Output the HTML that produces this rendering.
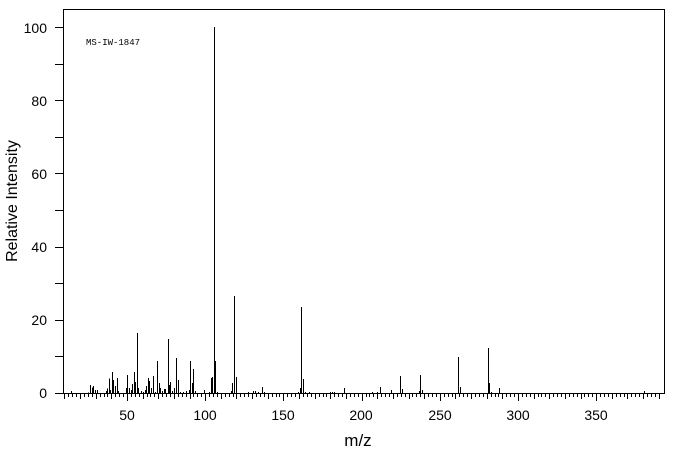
<!DOCTYPE html>
<html><head><meta charset="utf-8"><style>
html,body{margin:0;padding:0;background:#fff;}
svg{display:block;font-family:"Liberation Sans",sans-serif;}
</style></head><body>
<svg id="s" width="676" height="455" viewBox="0 0 676 455" shape-rendering="crispEdges">
<rect x="63.5" y="9.5" width="601" height="384" fill="none" stroke="#000" stroke-width="1"/>
<g id="t" stroke="#000" stroke-width="1"></g>
<g id="b" stroke="#000" stroke-width="1"></g>
<g font-size="14" fill="#000" text-anchor="end">
<text x="47" y="398">0</text>
<text x="47" y="325">20</text>
<text x="47" y="252">40</text>
<text x="47" y="179">60</text>
<text x="47" y="106">80</text>
<text x="47" y="33">100</text>
</g>
<g font-size="14" fill="#000" text-anchor="middle">
<text x="127" y="420">50</text>
<text x="205" y="420">100</text>
<text x="283" y="420">150</text>
<text x="361" y="420">200</text>
<text x="440" y="420">250</text>
<text x="518" y="420">300</text>
<text x="596" y="420">350</text>
<text x="358" y="446" font-size="17">m/z</text>
<text transform="translate(17,201) rotate(-90)" font-size="16">Relative Intensity</text>
</g>
<text x="86" y="45" font-family="Liberation Mono,monospace" font-size="9">MS-IW-1847</text>
</svg>
<script>
var t=document.getElementById('t'),b=document.getElementById('b'),h='';
for(var v=0;v<=100;v+=10){var y=Math.round(393-v*3.66)+0.5;h+='<line x1="55" x2="63" y1="'+y+'" y2="'+y+'"/>';}
for(var m=10;m<=392;m+=2.5){var x=Math.round(127+(m-50)*1.564)+0.5;var L=(m%50==0)?8:(m%10==0)?6:4;h+='<line x1="'+x+'" x2="'+x+'" y1="393" y2="'+(393+L)+'"/>';}
t.innerHTML=h;
var p=[[71.3,391],[88.3,392.3],[90.3,385],[91.7,387.3],[93.3,386],[95.3,390],[96.7,390],[106.3,391],[107.3,388.3],[109.3,378.3],[110.3,390],[112.3,372],[113.3,380],[115.3,386],[117.3,378],[118.3,391],[126.3,388],[127.3,375],[129.3,388],[131.3,390],[132.3,384],[134.3,372],[135.3,382],[137.3,333],[138.3,388],[141.3,391],[143.3,392],[145.3,390],[146.3,386],[148.3,378],[149.3,381],[151.3,388],[153.3,376],[155.3,392],[157.3,361],[159.3,383],[160.3,388],[162.3,391],[164.3,389],[165.3,389],[168.3,339],[169.3,385],[170.3,382],[172.3,391],[174.3,388],[176.3,358],[178.3,380],[180.3,392],[183.3,392],[186.3,391],[189.3,390],[190.3,361],[192.3,383],[193.3,369],[195.3,391],[204.3,390],[209.3,392],[211.3,378],[212.3,377],[214.3,27],[215.3,361],[217.3,392],[231.3,391],[232.3,383],[234.3,296],[236.3,377],[248.3,392],[253.3,391],[255.3,391],[258.3,392],[262.3,387],[264.3,392],[298.3,392],[300.3,388],[301.3,307],[303.3,379],[305.3,392],[309.3,392],[330.3,392],[332.3,392],[334.3,392],[344.3,388],[372.3,392],[377.3,392],[380.3,387],[391.3,390],[400.3,376],[402.3,389],[419.3,391],[420.3,375],[422.3,390],[458.3,357],[460.3,387],[488.3,348],[489.3,383],[491.3,392],[499.3,388],[644.3,391]];
h='';p.forEach(function(q){var x=Math.round(q[0])+0.5;h+='<line x1="'+x+'" x2="'+x+'" y1="393" y2="'+q[1]+'"/>';});
b.innerHTML=h;
</script>
</body></html>
